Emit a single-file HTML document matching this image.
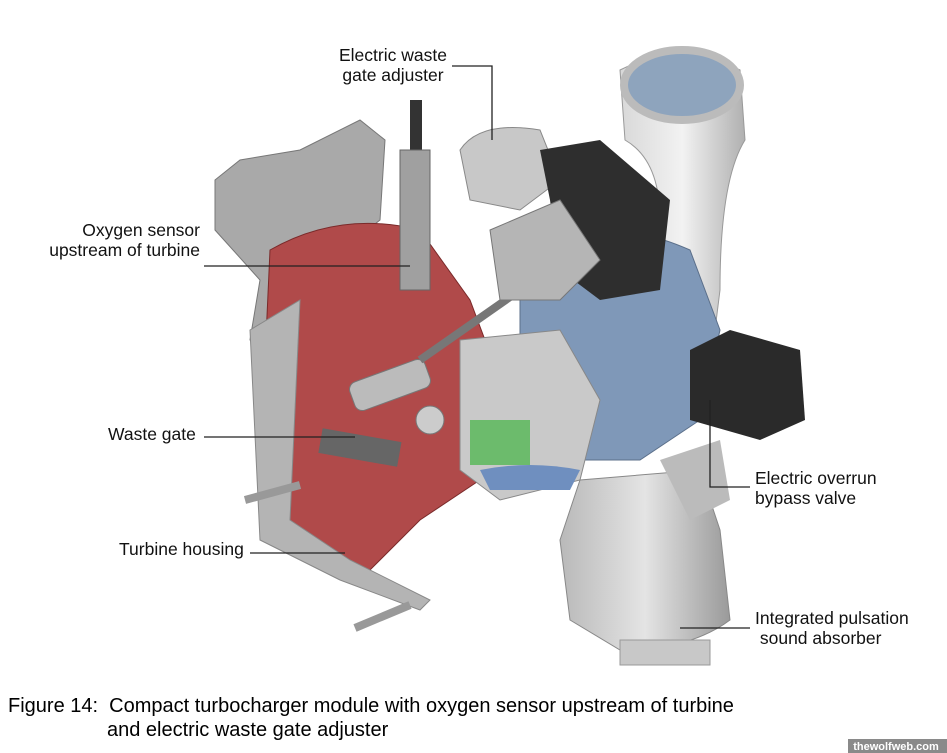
<!DOCTYPE html>
<html><head><meta charset="utf-8"><style>
html,body{margin:0;padding:0;background:#fff;}
body{width:947px;height:753px;position:relative;overflow:hidden;font-family:"Liberation Sans",sans-serif;}
.l{position:absolute;font-size:17.5px;color:#111;line-height:20px;white-space:nowrap;}
.cap{position:absolute;font-size:20px;color:#000;white-space:nowrap;}
</style></head><body>
<svg width="947" height="753" style="position:absolute;left:0;top:0">
<defs>
<linearGradient id="g1" x1="0" x2="1"><stop offset="0" stop-color="#b9b9b9"/><stop offset=".5" stop-color="#e4e4e4"/><stop offset="1" stop-color="#9a9a9a"/></linearGradient>
<linearGradient id="g2" x1="0" x2="1"><stop offset="0" stop-color="#d8d8d8"/><stop offset=".5" stop-color="#f2f2f2"/><stop offset="1" stop-color="#b0b0b0"/></linearGradient>
</defs>
<path d="M215,180 L240,160 L300,150 L360,120 L385,140 L380,220 L330,260 L300,330 L270,360 L250,340 L260,280 L215,230 Z" fill="#a9a9a9" stroke="#777"/>
<path d="M620,70 Q680,40 740,70 L745,140 Q720,180 720,290 L715,330 L660,340 L660,220 Q660,160 625,140 Z" fill="url(#g2)" stroke="#999"/>
<ellipse cx="682" cy="85" rx="58" ry="35" fill="#8ea4bd" stroke="#bbb" stroke-width="8"/>
<path d="M520,250 Q600,210 690,250 L720,330 L700,420 L640,460 L560,460 L520,400 Z" fill="#7f98b8" stroke="#5b6f8a"/>
<path d="M580,480 L700,470 L720,530 L730,620 Q690,650 620,650 L570,620 L560,540 Z" fill="url(#g1)" stroke="#888"/>
<rect x="620" y="640" width="90" height="25" fill="#c8c8c8" stroke="#999"/>
<path d="M660,460 L720,440 L730,500 L690,520 Z" fill="#bbb"/>
<path d="M270,250 Q340,210 420,230 L470,300 L500,380 L480,480 L420,520 L370,570 L310,560 L270,480 L265,360 Z" fill="#b04a4a" stroke="#7a2a2a"/>
<path d="M250,330 L300,300 L290,520 L350,560 L430,600 L420,610 L340,580 L260,540 Z" fill="#b4b4b4" stroke="#888"/>
<path d="M460,340 L560,330 L600,400 L580,480 L500,500 L460,470 Z" fill="#c9c9c9" stroke="#888"/>
<rect x="470" y="420" width="60" height="45" fill="#5cb85c" opacity=".85"/>
<path d="M480,470 Q530,460 580,470 L570,490 L490,490 Z" fill="#6f8fbf"/>
<rect x="350" y="370" width="80" height="30" rx="8" fill="#bbb" stroke="#777" transform="rotate(-20 390 385)"/>
<circle cx="430" cy="420" r="14" fill="#ccc" stroke="#777"/>
<rect x="320" y="435" width="80" height="25" fill="#666" transform="rotate(10 360 447)"/>
<rect x="410" y="100" width="12" height="50" fill="#333"/>
<rect x="400" y="150" width="30" height="140" fill="#a0a0a0" stroke="#666"/>
<line x1="420" y1="360" x2="520" y2="290" stroke="#777" stroke-width="8"/>
<path d="M460,150 Q480,120 540,130 L560,180 L520,210 L470,200 Z" fill="#c8c8c8" stroke="#888"/>
<path d="M540,150 L600,140 L670,200 L660,290 L600,300 L560,270 L550,200 Z" fill="#2e2e2e"/>
<path d="M490,230 L560,200 L600,260 L560,300 L500,300 Z" fill="#b5b5b5" stroke="#777"/>
<path d="M690,350 L730,330 L800,350 L805,420 L760,440 L690,420 Z" fill="#2a2a2a"/>
<line x1="245" y1="500" x2="300" y2="485" stroke="#999" stroke-width="8"/>
<line x1="355" y1="628" x2="410" y2="605" stroke="#999" stroke-width="8"/>
<g stroke="#222" stroke-width="1.3" fill="none">
<polyline points="452,66 492,66 492,140"/>
<line x1="204" y1="266" x2="410" y2="266"/>
<line x1="204" y1="437" x2="355" y2="437"/>
<line x1="250" y1="553" x2="345" y2="553"/>
<polyline points="710,400 710,487 750,487"/>
<line x1="680" y1="628" x2="750" y2="628"/>
</g>
<rect x="848" y="739" width="99" height="14" fill="#8a8a8a"/>
<text x="896" y="750" font-family="Liberation Sans,sans-serif" font-size="11" font-weight="bold" fill="#fff" text-anchor="middle">thewolfweb.com</text>
</svg>
<div class="l" style="left:339px;top:45px;text-align:center">Electric waste<br>gate adjuster</div>
<div class="l" style="left:20px;top:220px;text-align:right;width:180px">Oxygen sensor<br>upstream of turbine</div>
<div class="l" style="left:108px;top:424px">Waste gate</div>
<div class="l" style="left:119px;top:539px">Turbine housing</div>
<div class="l" style="left:755px;top:468px">Electric overrun<br>bypass valve</div>
<div class="l" style="left:755px;top:608px">Integrated pulsation<br>&nbsp;sound absorber</div>
<div class="cap" style="left:8px;top:695px">Figure 14:&nbsp; Compact turbocharger module with oxygen sensor upstream of turbine</div>
<div class="cap" style="left:107px;top:719px">and electric waste gate adjuster</div>
</body></html>
